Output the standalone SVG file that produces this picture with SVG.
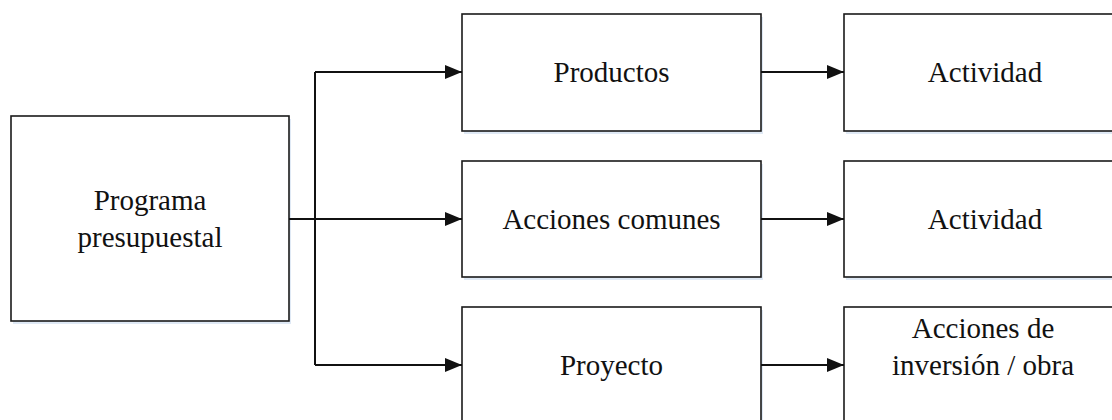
<svg xmlns="http://www.w3.org/2000/svg" width="1112" height="420" viewBox="0 0 1112 420">
<style>
.box{fill:#fff;stroke:#1a1a1a;stroke-width:1.6}
.sh{fill:#dfe9f5}
.lbl{font-family:"Liberation Serif","Times New Roman",serif;font-size:29px;fill:#111;text-anchor:middle}
.con{fill:none;stroke:#111;stroke-width:2}
</style>
<defs>
<marker id="arr" viewBox="0 0 17 14" refX="17" refY="7" markerWidth="17" markerHeight="14" markerUnits="userSpaceOnUse" orient="auto">
<path d="M0,0 L17,7 L0,14 Z" fill="#111"/>
</marker>
</defs>
<rect width="1112" height="420" fill="#fff"/>
<g id="n-programa">
<rect class="sh" x="13" y="119" width="278" height="205"/>
<rect class="box" x="11" y="116" width="278" height="205"/>
<text class="lbl" x="150" y="210">Programa</text>
<text class="lbl" x="150" y="247">presupuestal</text>
</g>
<g id="n-productos">
<rect class="sh" x="464" y="17" width="299" height="117"/>
<rect class="box" x="462" y="14" width="299" height="117"/>
<text class="lbl" x="611.5" y="82">Productos</text>
</g>
<g id="n-acciones-comunes">
<rect class="sh" x="464" y="164" width="299" height="116"/>
<rect class="box" x="462" y="161" width="299" height="116"/>
<text class="lbl" x="611.5" y="229">Acciones comunes</text>
</g>
<g id="n-proyecto">
<rect class="sh" x="464" y="310" width="299" height="120"/>
<rect class="box" x="462" y="307" width="299" height="120"/>
<text class="lbl" x="611.5" y="375">Proyecto</text>
</g>
<g id="n-actividad-1">
<rect class="sh" x="846" y="17" width="290" height="117"/>
<rect class="box" x="844" y="14" width="290" height="117"/>
<text class="lbl" x="985" y="82">Actividad</text>
</g>
<g id="n-actividad-2">
<rect class="sh" x="846" y="164" width="290" height="116"/>
<rect class="box" x="844" y="161" width="290" height="116"/>
<text class="lbl" x="985" y="229">Actividad</text>
</g>
<g id="n-acciones-inversion">
<rect class="sh" x="846" y="310" width="290" height="120"/>
<rect class="box" x="844" y="307" width="290" height="120"/>
<text class="lbl" x="983" y="338">Acciones de</text>
<text class="lbl" x="983" y="375">inversión / obra</text>
</g>
<g id="connectors">
<path class="con" d="M289,219 H315"/>
<path class="con" d="M315,72 V365"/>
<path class="con" d="M315,72 H462" marker-end="url(#arr)"/>
<path class="con" d="M315,219 H462" marker-end="url(#arr)"/>
<path class="con" d="M315,365 H462" marker-end="url(#arr)"/>
<path class="con" d="M761,72 H844" marker-end="url(#arr)"/>
<path class="con" d="M761,219 H844" marker-end="url(#arr)"/>
<path class="con" d="M761,365 H844" marker-end="url(#arr)"/>
</g>
</svg>
